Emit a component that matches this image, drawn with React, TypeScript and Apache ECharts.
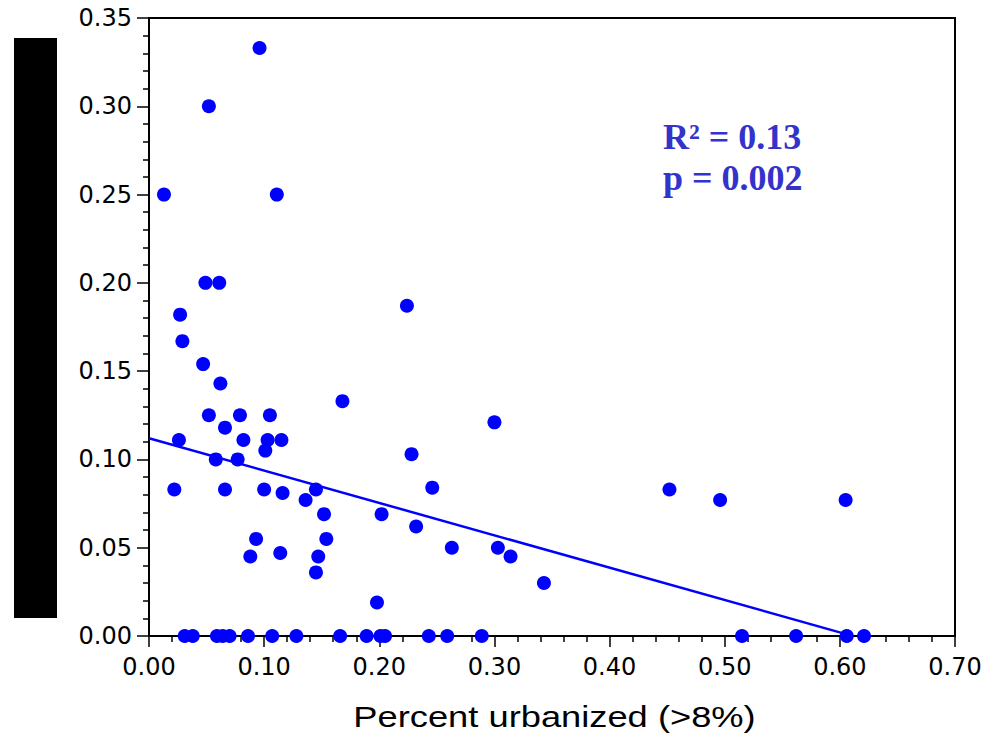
import React, { useEffect, useRef } from "react";
import * as echarts from "echarts";

// Scatter points: [percent urbanized, response]
const points: [number, number][] = [
  [0.013, 0.25], [0.096, 0.333], [0.052, 0.3], [0.111, 0.25],
  [0.049, 0.2], [0.061, 0.2], [0.027, 0.182], [0.029, 0.167],
  [0.047, 0.154], [0.062, 0.143], [0.052, 0.125], [0.079, 0.125],
  [0.105, 0.125], [0.066, 0.118], [0.026, 0.111], [0.082, 0.111],
  [0.103, 0.111], [0.115, 0.111], [0.101, 0.105], [0.058, 0.1],
  [0.077, 0.1], [0.022, 0.083], [0.066, 0.083], [0.1, 0.083],
  [0.116, 0.081], [0.136, 0.077], [0.145, 0.083], [0.152, 0.069],
  [0.154, 0.055], [0.093, 0.055], [0.088, 0.045], [0.114, 0.047],
  [0.147, 0.045], [0.145, 0.036], [0.168, 0.133], [0.224, 0.187],
  [0.228, 0.103], [0.246, 0.084], [0.202, 0.069], [0.232, 0.062],
  [0.263, 0.05], [0.3, 0.121], [0.303, 0.05], [0.314, 0.045],
  [0.343, 0.03], [0.198, 0.019], [0.452, 0.083], [0.496, 0.077],
  [0.605, 0.077],
];

// Points lying on zero response (x values)
const zeroPointsX: number[] = [
  0.031, 0.038, 0.059, 0.064, 0.07, 0.086, 0.107, 0.128, 0.166, 0.189,
  0.201, 0.205, 0.243, 0.259, 0.289, 0.515, 0.562, 0.606, 0.621,
];

// Regression line endpoints
const fitLine: [number, number][] = [
  [0.0, 0.112],
  [0.603, 0.0015],
];

const statsLines: string[] = ["R² = 0.13", "p = 0.002"];
const xAxisTitle = "Percent urbanized (>8%)";

export default function App() {
  const ref = useRef<HTMLDivElement>(null);

  useEffect(() => {
    if (!ref.current) return;
    const chart = echarts.init(ref.current, undefined, { renderer: "svg" });
    const allPoints = points.concat(zeroPointsX.map((x) => [x, 0] as [number, number]));
    const tickFont = {
      fontFamily: "DejaVu Sans",
      fontSize: 24,
      color: "#000",
    };
    chart.setOption({
      animation: false,
      backgroundColor: "#fff",
      grid: {
        left: 149,
        top: 18,
        right: 33,
        bottom: 102,
        show: true,
        borderColor: "#000",
        borderWidth: 2,
        backgroundColor: "transparent",
      },
      xAxis: {
        type: "value",
        min: 0,
        max: 0.7,
        interval: 0.1,
        splitLine: { show: false },
        axisLine: { show: true, onZero: false, lineStyle: { color: "#000", width: 2 } },
        axisTick: { show: true, inside: false, length: 11, lineStyle: { color: "#000", width: 1.5 } },
        minorTick: { show: true, splitNumber: 5, length: 6, lineStyle: { color: "#000", width: 1.5 } },
        axisLabel: {
          ...tickFont,
          margin: 19,
          formatter: (v: number) => v.toFixed(2),
        },
      },
      yAxis: {
        type: "value",
        min: 0,
        max: 0.35,
        interval: 0.05,
        splitLine: { show: false },
        axisLine: { show: true, onZero: false, lineStyle: { color: "#000", width: 2 } },
        axisTick: { show: true, inside: false, length: 12, lineStyle: { color: "#000", width: 1.5 } },
        minorTick: { show: true, splitNumber: 5, length: 6, lineStyle: { color: "#000", width: 1.5 } },
        axisLabel: {
          ...tickFont,
          margin: 17,
          formatter: (v: number) => v.toFixed(2),
        },
      },
      series: [
        {
          type: "line",
          data: fitLine,
          symbol: "none",
          lineStyle: { color: "#0000ff", width: 2.5 },
          z: 2,
        },
        {
          type: "scatter",
          data: allPoints,
          symbol: "circle",
          symbolSize: 14,
          itemStyle: { color: "#0000ff", opacity: 1 },
          z: 3,
        },
      ],
      graphic: [
        {
          type: "rect",
          shape: { x: 14, y: 38, width: 43, height: 580 },
          style: { fill: "#000" },
        },
        {
          type: "text",
          x: 554.5,
          y: 717,
          scaleX: 1.21,
          style: {
            x: 0,
            y: 0,
            text: xAxisTitle,
            fontFamily: "Liberation Sans",
            fontSize: 30,
            fill: "#000",
            textAlign: "center",
            textVerticalAlign: "middle",
          },
        },
        {
          type: "text",
          x: 663,
          y: 136.5,
          style: {
            text: statsLines[0],
            fontFamily: "Liberation Serif",
            fontWeight: "bold",
            fontSize: 36,
            fill: "#3333cc",
            textAlign: "left",
            textVerticalAlign: "middle",
          },
        },
        {
          type: "text",
          x: 663,
          y: 177.5,
          style: {
            text: statsLines[1],
            fontFamily: "Liberation Serif",
            fontWeight: "bold",
            fontSize: 36,
            fill: "#3333cc",
            textAlign: "left",
            textVerticalAlign: "middle",
          },
        },
      ],
    });
    return () => chart.dispose();
  }, []);

  return (
    <div
      ref={ref}
      style={{ position: "fixed", left: 0, top: 0, width: 988, height: 738, background: "#fff" }}
    />
  );
}
